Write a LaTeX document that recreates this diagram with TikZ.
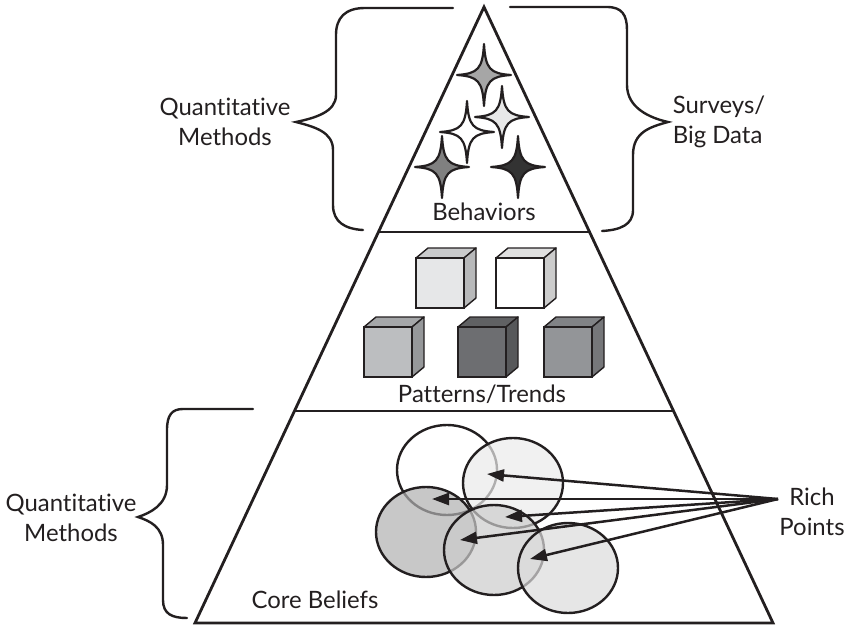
\documentclass[tikz,border=0pt]{standalone}
\usepackage{fontspec}
\setmainfont{Lato}[Ligatures=NoCommon]
\usepackage{tikz}
\usetikzlibrary{arrows.meta}

\definecolor{ink}{HTML}{231F20}
\definecolor{cubeA}{HTML}{E6E7E8}
\definecolor{cubeB}{HTML}{FFFFFF}
\definecolor{cubeC}{HTML}{BCBEC0}
\definecolor{cubeD}{HTML}{6D6E71}
\definecolor{cubeE}{HTML}{939598}

\begin{document}
\begin{tikzpicture}[x=1bp,y=-1bp,
  txt/.style={font=\fontsize{24}{30}\selectfont, text=ink, inner sep=0pt, align=center},
  edge/.style={line width=2.8bp, draw=ink},
  brace/.style={line width=2.4bp, draw=ink, line cap=round},
  blob/.style={line width=2.4bp, draw=ink, fill opacity=0.7},
  richarrow/.style={line width=2.5bp, draw=ink, fill=ink, -{Triangle[length=17bp,width=12bp]}},
  sparkle/.pic={\filldraw[line width=2.2bp, draw=ink, line join=round]
    (0,-31) .. controls (1.5,-6) and (6,-1.5) .. (27,0) .. controls (6,1.5) and (1.5,6) .. (0,31)
    .. controls (-1.5,6) and (-6,1.5) .. (-27,0) .. controls (-6,-1.5) and (-1.5,-6) .. cycle;},
  cubebox/.pic={
    \filldraw[line width=1.4bp, draw=ink, line join=round, fill=#1!88!black] (0,0) -- (12,-10) -- (60,-10) -- (48,0) -- cycle;
    \filldraw[line width=1.4bp, draw=ink, line join=round, fill=#1!80!black] (48,0) -- (60,-10) -- (60,40) -- (48,50) -- cycle;
    \filldraw[line width=1.4bp, draw=ink, fill=#1] (0,0) rectangle (48,50);}]
\useasboundingbox (0,0) rectangle (850,626);

\coordinate (apex) at (484,7);
\coordinate (bl) at (195,623);
\coordinate (br) at (773,623);
\draw[edge] (apex) -- (br) -- (bl) -- cycle;
\draw[edge] (378.4,232) -- (589.6,232);
\draw[edge] (294.5,411) -- (673.5,411);

% braces
\draw[brace] (453,8) -- (365,8) .. controls (345,8) and (336,18) .. (336,35) -- (336,95)
  .. controls (336,112) and (315,118) .. (296,122) .. controls (315,127) and (333,132) .. (333,150)
  -- (333,205) .. controls (333,222) and (345,229) .. (363,230);
\draw[brace] (510,7) -- (607,7) .. controls (622,7) and (627,15) .. (627,30) -- (627,85)
  .. controls (627,108) and (650,118) .. (668,122) .. controls (650,127) and (633,132) .. (633,155)
  -- (633,210) .. controls (633,225) and (620,230) .. (602,231);
\draw[brace] (253,409) -- (183,409) .. controls (172,409) and (167,415) .. (167,430) -- (167,485)
  .. controls (167,505) and (150,513) .. (138,517) .. controls (150,521) and (163,527) .. (163,545)
  -- (163,600) .. controls (163,614) and (172,618) .. (187,618);

% stars
\pic[fill=black!35] at (484,75) {sparkle};
\pic[fill=black!9] at (502,117) {sparkle};
\pic[fill=white] at (467,132) {sparkle};
\pic[fill=black!50] at (442,167) {sparkle};
\pic[fill=black!80] at (518,167) {sparkle};

% cubes
\pic at (416,258) {cubebox=cubeA};
\pic at (496,258) {cubebox=cubeB};
\pic at (364,327) {cubebox=cubeC};
\pic at (458,327) {cubebox=cubeD};
\pic at (544,327) {cubebox=cubeE};

% circles
\filldraw[blob, fill=white] (447,470) ellipse [x radius=50, y radius=45];
\filldraw[blob, fill=black!8] (513,483) ellipse [x radius=50, y radius=45];
\filldraw[blob, fill=black!31] (426,532) ellipse [x radius=50, y radius=45];
\filldraw[blob, fill=black!20] (494,550) ellipse [x radius=50, y radius=45];
\filldraw[blob, fill=black!14] (568,568) ellipse [x radius=50, y radius=45];

\node[txt] (qmtop) at (225,122) {Quantitative\\Methods};
\node[txt, align=left] (surveys) at (719,122) {Surveys/\\Big Data};
\node[txt] (behaviors) at (484,212) {Behaviors};
\node[txt] (patterns) at (482,394) {Patterns/Trends};
\node[txt] (qmbot) at (71,518) {Quantitative\\Methods};
\node[txt] (core) at (315,600) {Core Beliefs};
\node[txt] (rich) at (812,512) {Rich\\Points};

\coordinate (rp0) at (778,499);
\coordinate (rp1) at (487,474);
\coordinate (rp2) at (432,499);
\coordinate (rp3) at (505,517);
\coordinate (rp4) at (460,540);
\coordinate (rp5) at (530,559);
\draw[richarrow] (rp0) -- (rp1);
\draw[richarrow] (rp0) -- (rp2);
\draw[richarrow] (rp0) -- (rp3);
\draw[richarrow] (rp0) -- (rp4);
\draw[richarrow] (rp0) -- (rp5);

\end{tikzpicture}
\end{document}
